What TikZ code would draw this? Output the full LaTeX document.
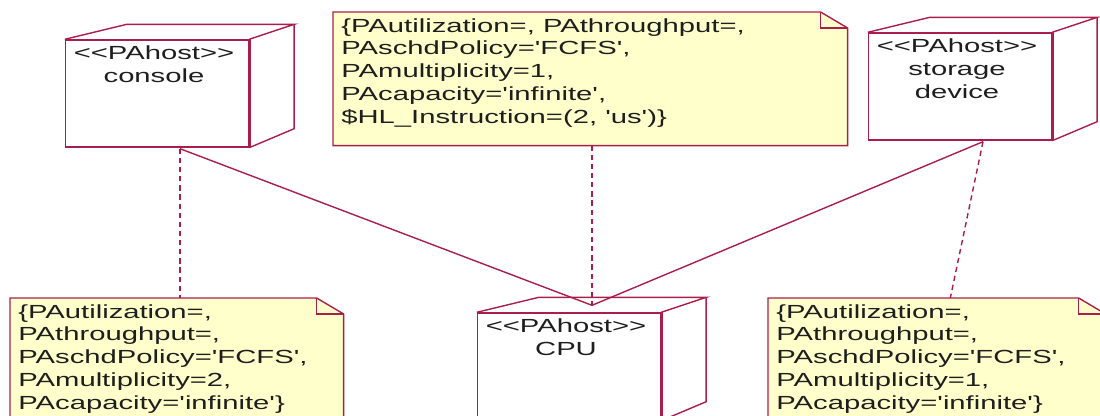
\documentclass[tikz,border=0pt]{standalone}
\usepackage{fontspec}
\usepackage{tikz}
\usetikzlibrary{shapes,arrows}
\newfontfamily\umlfont{Liberation Sans}[FakeStretch=1.54]
\definecolor{umlline}{RGB}{170,30,75}
\definecolor{notefill}{RGB}{255,255,204}
\definecolor{umltext}{RGB}{30,30,30}
\tikzstyle{umlline}=[draw=umlline, line width=0.8pt]
\tikzstyle{dashline}=[draw=umlline, line width=0.8pt, dash pattern=on 3pt off 2.2pt]
\tikzstyle{pahost}=[rectangle, draw=umlline, line width=0.8pt, fill=white, minimum width=3.66cm, minimum height=2.14cm, inner sep=0pt]
\tikzstyle{panote}=[rectangle, fill=notefill, anchor=north west, inner sep=0pt]
\tikzstyle{hosttext}=[anchor=north, inner sep=0pt, align=center, text=umltext, font=\umlfont\fontsize{10.8}{13}\selectfont]
\tikzstyle{notetext}=[anchor=north west, inner sep=0pt, align=left, text=umltext, font=\umlfont\fontsize{10.8}{13}\selectfont]
\newcommand{\pahost}[3]{
	\node[pahost] (#1) at (#2) {};
	\draw[umlline] (#1.north west) -- ++(62,-15) -- ([shift={(45,-15)}]#1.north east) -- (#1.north east);
	\draw[umlline] ([shift={(45,-15)}]#1.north east) -- ([shift={(45,-19)}]#1.south east) -- (#1.south east);
	\draw[umlline, line width=1.7pt] (#1.north east) -- (#1.south east);
	\node[hosttext] (#1 text) at ([shift={(-3,6)}]#1.north) {#3};
	\coordinate (#1 top) at ([shift={(23,-7)}]#1.north);
	\coordinate (#1 bottom) at ([shift={(23,1)}]#1.south);}
\newcommand{\panote}[5]{
	\node[panote, minimum width=#3, minimum height=#4] (#1) at (#2) {};
	\fill[white] ([shift={(-27,0)}]#1.north east) -- (#1.north east) -- ([shift={(0,16)}]#1.north east) -- cycle;
	\draw[umlline] (#1.north west) -- ([shift={(-27,0)}]#1.north east) -- ([shift={(0,16)}]#1.north east) -- (#1.south east) -- (#1.south west) -- cycle;
	\draw[umlline] ([shift={(-27,0)}]#1.north east) |- ([shift={(0,16)}]#1.north east);
	\node[notetext] (#1 text) at ([shift={(8,6)}]#1.north west) {#5};}

\begin{document}
\begin{tikzpicture}[x=0.02cm, y=-0.02cm]
	\useasboundingbox (0,0) rectangle (1100,416);

	\pahost{console}{157,93.5}{<<PAhost>>\\console}
	\pahost{storage}{960,86.5}{<<PAhost>>\\storage\\device}
	\pahost{cpu}{569,366.5}{<<PAhost>>\\CPU}

	\panote{topnote}{333,12}{10.28cm}{2.66cm}{\{PAutilization=, PAthroughput=,\\PAschdPolicy='FCFS',\\PAmultiplicity=1,\\PAcapacity='infinite',\\\$HL\_Instruction=(2, 'us')\}}
	\panote{leftnote}{10,298}{6.66cm}{2.8cm}{\{PAutilization=,\\PAthroughput=,\\PAschdPolicy='FCFS',\\PAmultiplicity=2,\\PAcapacity='infinite'\}}
	\panote{rightnote}{768,298}{6.74cm}{2.8cm}{\{PAutilization=,\\PAthroughput=,\\PAschdPolicy='FCFS',\\PAmultiplicity=1,\\PAcapacity='infinite'\}}

	\draw[dashline] (console bottom) -- (console bottom |- leftnote.north);
	\draw[umlline] (console bottom) -- (cpu top);
	\draw[umlline] (storage bottom) -- (cpu top);
	\draw[dashline] (cpu top |- topnote.south) -- (cpu top);
	\draw[dashline] (storage bottom) -- ([shift={(13.5,0)}]rightnote.north);
\end{tikzpicture}
\end{document}
